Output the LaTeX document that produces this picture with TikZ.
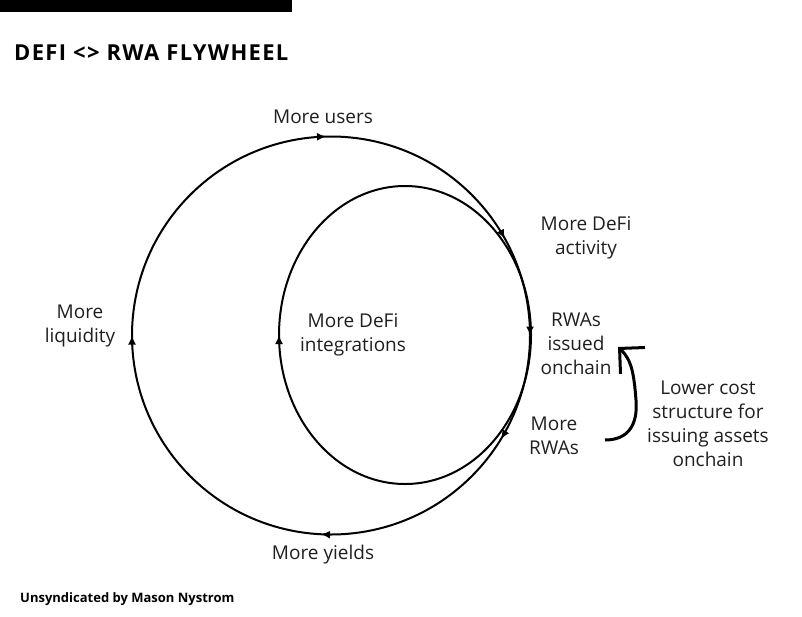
\documentclass[tikz,border=0pt]{standalone}
\usepackage{fontspec}
\setmainfont{Open Sans}
\usetikzlibrary{decorations.markings,arrows.meta}
\begin{document}
\begin{tikzpicture}[x=1pt,y=-1pt,
  lbl/.style={font=\fontsize{19}{24}\selectfont, align=center, inner sep=0pt, text=black!88},
  ring/.style={line width=2pt, draw=black},
  outerring/.style={ring, postaction={decorate}, decoration={markings,
     mark=at position 0.125 with {\arrow{Latex[length=9pt,width=8pt]}},
     mark=at position 0.371 with {\arrow{Latex[length=9pt,width=8pt]}},
     mark=at position 0.544 with {\arrow{Latex[length=9pt,width=8pt]}},
     mark=at position 0.625 with {\arrow{Latex[length=9pt,width=8pt]}},
     mark=at position 0.712 with {\arrow{Latex[length=9pt,width=8pt]}},
     mark=at position 0.883 with {\arrow{Latex[length=9pt,width=8pt]}}}},
  innerring/.style={ring, postaction={decorate}, decoration={markings,
     mark=at position 0.25 with {\arrow{Latex[length=9pt,width=8pt]}}}},
  bracket/.style={line width=3pt, -{Straight Barb[length=18pt,width=36pt]}}
]
\useasboundingbox (0,0) rectangle (802,616);
\fill[black] (0,0) rectangle (292,12);
\node[anchor=west, inner sep=0pt, font=\fontsize{22}{24}\selectfont\bfseries\addfontfeatures{LetterSpace=6}] (title) at (14,53) {DEFI <> RWA FLYWHEEL};

\coordinate (oc) at (331,335.5);
\coordinate (ic) at (405,335);
\draw[innerring] ([shift={(90:149)}]ic) arc[start angle=90, end angle=450, x radius=126, y radius=149];
\draw[outerring] ([shift={(135:199)}]oc) arc[start angle=135, end angle=495, radius=199];

\node[lbl] (users) at (323,117) {More users};
\node[lbl] (activity) at (586,238) {More DeFi\\activity};
\node[lbl] (issued) at (576,344) {RWAs\\issued\\onchain};
\node[lbl] (rwas) at (554,436) {More\\RWAs};
\node[lbl] (lower) at (708,424) {Lower cost\\structure for\\issuing assets\\onchain};
\node[lbl] (liquidity) at (80,326) {More\\liquidity};
\node[lbl] (integ) at (353,335) {More DeFi\\integrations};
\node[lbl] (yields) at (323,555) {More yields};
\node[anchor=west, inner sep=0pt, font=\fontsize{13}{16}\selectfont\bfseries] (credit) at (20,599) {Unsyndicated by Mason Nystrom};

\coordinate (bs) at (605,440);
\coordinate (be) at (618,347);
\draw[bracket] (bs) .. controls (628,440) and (638,425) .. (636,400) .. controls (634,375) and (632,360) .. (be);
\end{tikzpicture}
\end{document}
